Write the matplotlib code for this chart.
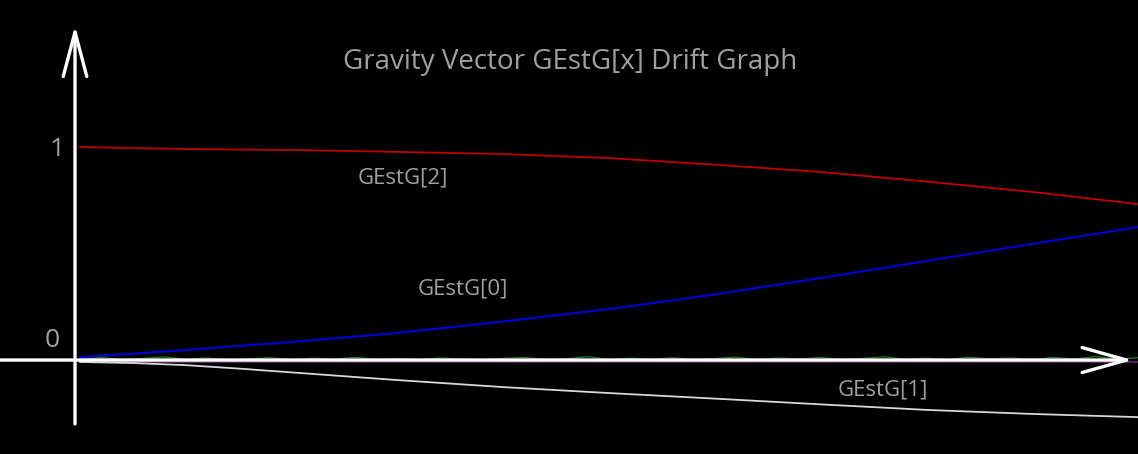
import matplotlib
matplotlib.use('Agg')
import matplotlib.pyplot as plt

plt.rcParams['font.family'] = ['Open Sans', 'DejaVu Sans']

# time samples (arbitrary units) and gravity vector components
t = [0, 5, 10, 15, 20, 30, 40, 50, 60, 70, 80, 90, 100]
gest_2 = [1.000, 0.995, 0.991, 0.988, 0.986, 0.977, 0.967, 0.948, 0.917, 0.883, 0.838, 0.789, 0.732]
gest_0 = [0.014, 0.030, 0.047, 0.066, 0.085, 0.127, 0.181, 0.239, 0.308, 0.385, 0.465, 0.545, 0.624]
gest_1 = [-0.009, -0.014, -0.024, -0.040, -0.058, -0.094, -0.127, -0.155, -0.181, -0.208, -0.234, -0.253, -0.268]

# small noisy trace sitting on the zero line
t_noise = [0, 2, 4, 6, 8, 10, 12, 14, 16, 18, 20, 22, 24, 26, 28, 30, 32, 34, 36, 38,
           40, 42, 44, 46, 48, 50, 52, 54, 56, 58, 60, 62, 64, 66, 68, 70, 72, 74, 76, 78,
           80, 82, 84, 86, 88, 90, 92, 94, 96, 98, 100]
noise = [0.004, 0.012, 0.002, 0.008, 0.015, 0.003, 0.010, 0.001, 0.006, 0.011, 0.002,
         0.009, 0.004, 0.013, 0.003, 0.007, 0.002, 0.010, 0.005, 0.001, 0.008, 0.012,
         0.003, 0.006, 0.016, 0.002, 0.009, 0.004, 0.011, 0.003, 0.007, 0.014, 0.002,
         0.010, 0.005, 0.012, 0.003, 0.008, 0.015, 0.004, 0.009, 0.002, 0.013, 0.006,
         0.010, 0.003, 0.012, 0.005, 0.016, 0.004, 0.011]
t_purple = [0, 100]
purple = [-0.008, -0.008]

labels = ['GEstG[2]', 'GEstG[0]', 'GEstG[1]']
label_pos = [(30.5, 0.854), (36.2, 0.333), (75.9, -0.141)]

fig = plt.figure(figsize=(11.38, 4.54), dpi=100, facecolor='black')
ax = fig.add_axes([0, 0, 1, 1])
ax.set_facecolor('black')
ax.set_xlim(-7.56, 100)
ax.set_ylim(-0.441, 1.690)
ax.axis('off')

ax.plot(t_purple, purple, color='#6a2a6a', lw=1.2)
ax.plot(t_noise, noise, color='#1f8a1f', lw=0.8)
ax.plot(t, gest_2, color='#c00000', lw=1.3)
ax.plot(t, gest_0, color='#0000cc', lw=1.6)
ax.plot(t, gest_1, color='#d8d8d8', lw=1.3)

# axes with open arrow heads
ax.annotate('', xy=(-0.47, 1.57), xytext=(-0.47, -0.30),
            arrowprops=dict(arrowstyle='->,head_length=3.2,head_width=0.85',
                            color='white', lw=2.4, shrinkA=0, shrinkB=0))
ax.annotate('', xy=(99.5, 0), xytext=(-7.56, 0),
            arrowprops=dict(arrowstyle='->,head_length=3.2,head_width=0.9',
                            color='white', lw=2.4, shrinkA=0, shrinkB=0))

ax.text(-2.2, 0.986, '1', color='#a0a0a0', fontsize=19, ha='center', va='center')
ax.text(-2.6, 0.094, '0', color='#a0a0a0', fontsize=19, ha='center', va='center')

for lab, (x, y) in zip(labels, label_pos):
    ax.text(x, y, lab, color='#a0a0a0', fontsize=16, ha='center', va='center')

fig.text(0.501, 0.863, 'Gravity Vector GEstG[x] Drift Graph', color='#a0a0a0',
         fontsize=20, ha='center', va='center')

plt.savefig('out.png', dpi=100, facecolor='black')
